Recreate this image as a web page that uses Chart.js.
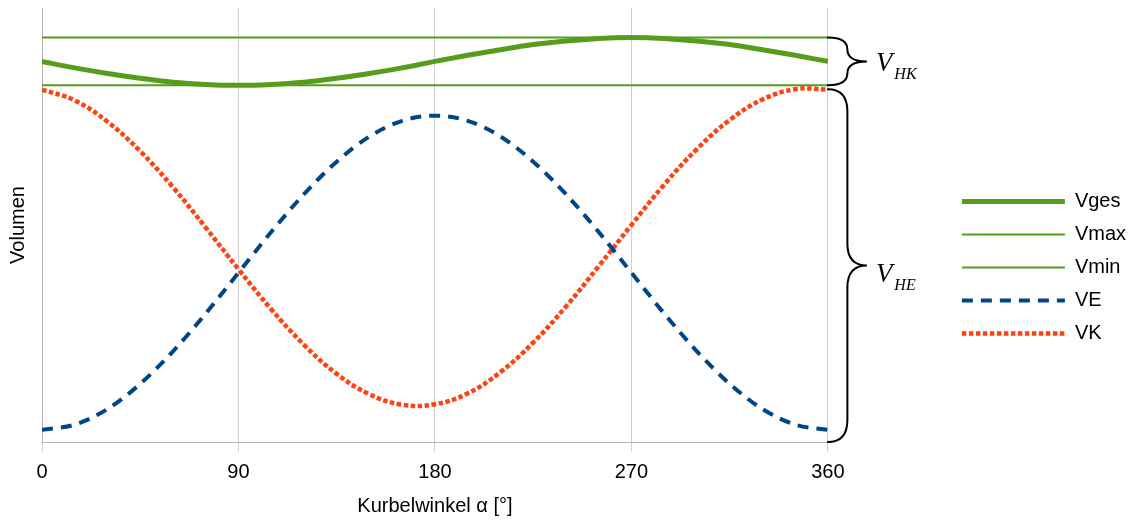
<!DOCTYPE html>
<html>
<head>
<meta charset="utf-8">
<script src="https://cdn.jsdelivr.net/npm/chart.js@4"></script>
<style>
  html, body { margin: 0; padding: 0; background: #fff; }
  #wrap { width: 1137px; height: 520px; }
</style>
</head>
<body>
<div id="wrap"><canvas id="chart"></canvas></div>
<script>
// Kurbelwinkel (x) und Volumina (y, ohne Einheit)
const angles = [0, 15, 30, 45, 60, 75, 90, 105, 120, 135, 150, 165, 180, 195, 210, 225, 240, 255, 270, 285, 300, 315, 330, 345, 360];
const vges = [87.7, 86.2, 84.9, 83.8, 82.9, 82.4, 82.2, 82.4, 82.9, 83.8, 84.9, 86.2, 87.7, 89.1, 90.4, 91.6, 92.4, 93.0, 93.2, 93.0, 92.4, 91.6, 90.4, 89.1, 87.7];
const ve = [2.8, 4.0, 7.6, 13.4, 20.9, 29.6, 39.0, 48.4, 57.1, 64.6, 70.4, 74.0, 75.2, 74.0, 70.4, 64.6, 57.1, 48.4, 39.0, 29.6, 20.9, 13.4, 7.6, 4.0, 2.8];
const vk = [81.2, 78.7, 73.8, 67.0, 58.7, 49.4, 39.8, 30.6, 22.4, 15.7, 11.0, 8.6, 8.7, 11.2, 16.1, 22.9, 31.2, 40.5, 50.0, 59.3, 67.5, 74.2, 78.9, 81.3, 81.2];
const vmax = 93.2;
const vmin = 82.2;
const xTicks = [0, 90, 180, 270, 360];

const GREEN = '#579d1c', BLUE = '#004586', ORANGE = '#ff420e';
const FONT = '"Liberation Sans", Arial, sans-serif';

const pts = arr => angles.map((a, i) => ({ x: a, y: arr[i] }));
const flat = v => [{ x: angles[0], y: v }, { x: angles[angles.length - 1], y: v }];

// Geschweifte Klammer rechts neben dem Diagramm
function drawBrace(ctx, x0, yTop, yBot, w) {
    const xm = x0 + w / 2, xt = x0 + w;
    const tip = (yTop + yBot) / 2;
    const r = Math.min(22, (yBot - yTop) / 4);
    ctx.beginPath();
    ctx.moveTo(x0, yTop);
    ctx.quadraticCurveTo(xm, yTop, xm, yTop + r);
    ctx.lineTo(xm, tip - r);
    ctx.quadraticCurveTo(xm, tip, xt, tip);
    ctx.quadraticCurveTo(xm, tip, xm, tip + r);
    ctx.lineTo(xm, yBot - r);
    ctx.quadraticCurveTo(xm, yBot, x0, yBot);
    ctx.stroke();
    return tip;
}

function drawLabel(ctx, x, base, sub) {
    ctx.font = 'italic 27px "Liberation Serif"';
    ctx.fillText('V', x, base);
    const w = ctx.measureText('V').width;
    ctx.font = 'italic 16px "Liberation Serif"';
    ctx.fillText(sub, x + w + 2, base + 8);
}

const bracePlugin = {
    id: 'braces',
    afterDraw(chart) {
        const { ctx, chartArea, scales } = chart;
        const y = scales.y;
        ctx.save();
        ctx.strokeStyle = '#000';
        ctx.fillStyle = '#000';
        ctx.lineWidth = 2;
        ctx.lineCap = 'round';
        const x0 = chartArea.right;
        const t1 = drawBrace(ctx, x0, y.getPixelForValue(vmax), y.getPixelForValue(vmin), 39);
        const t2 = drawBrace(ctx, x0, y.getPixelForValue(Math.max(...vk)), y.getPixelForValue(y.min), 39);
        ctx.textBaseline = 'alphabetic';
        drawLabel(ctx, x0 + 48, t1 + 10, 'HK');
        drawLabel(ctx, x0 + 48, t2 + 16, 'HE');
        ctx.restore();
    }
};

new Chart(document.getElementById('chart'), {
    type: 'line',
    data: {
        datasets: [
            { label: 'Vges', data: pts(vges), borderColor: GREEN, borderWidth: 5 },
            { label: 'Vmax', data: flat(vmax), borderColor: GREEN, borderWidth: 2 },
            { label: 'Vmin', data: flat(vmin), borderColor: GREEN, borderWidth: 2 },
            { label: 'VE', data: pts(ve), borderColor: BLUE, borderWidth: 4, borderDash: [11, 8] },
            // Extremwerte liegen zwischen den Stützstellen -> normale Spline statt monotone
            { label: 'VK', data: pts(vk), borderColor: ORANGE, borderWidth: 4.5, borderDash: [4.5, 2.5],
              cubicInterpolationMode: 'default', tension: 0.4 }
        ]
    },
    options: {
        responsive: true,
        maintainAspectRatio: false,
        animation: false,
        devicePixelRatio: 1,
        layout: { padding: { top: 8, right: 1, left: 0, bottom: 0 } },
        elements: {
            point: { radius: 0 },
            line: { cubicInterpolationMode: 'monotone', fill: false, borderCapStyle: 'butt' }
        },
        plugins: {
            tooltip: { enabled: false },
            legend: {
                position: 'right',
                // leerer Titel, nur um die Einträge etwas nach unten zu schieben
                title: { display: true, text: ' ', font: { size: 1 }, padding: { top: 3, bottom: 3 } },
                labels: {
                    usePointStyle: true,
                    pointStyle: 'line',
                    pointStyleWidth: 103,
                    padding: 13,
                    color: '#000',
                    font: { family: FONT, size: 20 },
                    // Strichmuster der Linien auch in der Legende zeigen
                    generateLabels(chart) {
                        const items = Chart.defaults.plugins.legend.labels.generateLabels(chart);
                        items.forEach(it => {
                            const ds = chart.data.datasets[it.datasetIndex];
                            it.lineDash = ds.borderDash || [];
                            it.lineWidth = ds.borderWidth;
                            it.strokeStyle = ds.borderColor;
                        });
                        return items;
                    }
                }
            }
        },
        scales: {
            x: {
                type: 'linear',
                min: 0,
                max: 360,
                afterBuildTicks: s => { s.ticks = xTicks.map(v => ({ value: v })); },
                ticks: {
                    color: '#000',
                    padding: 8,
                    font: { family: FONT, size: 20 }
                },
                grid: { color: '#d0d0d0', tickLength: 10 },
                border: { color: '#b3b3b3' },
                title: {
                    display: true,
                    text: 'Kurbelwinkel α [°]',
                    color: '#000',
                    padding: { top: 0, bottom: 2 },
                    font: { family: FONT, size: 20 }
                },
                afterFit: s => { s.height = 78; }
            },
            y: {
                min: 0,
                max: 100,
                ticks: { display: false },
                grid: { display: false },
                border: { color: '#b3b3b3' },
                title: {
                    display: true,
                    text: 'Volumen',
                    color: '#000',
                    padding: { top: 6, bottom: 0 },
                    font: { family: FONT, size: 20 }
                },
                afterFit: s => { s.width = 42; }
            },
            // Platz für die Klammern zwischen Diagramm und Legende
            gap: {
                position: 'right',
                display: true,
                ticks: { display: false },
                grid: { display: false },
                border: { display: false },
                afterFit: s => { s.width = 121; }
            }
        }
    },
    plugins: [bracePlugin]
});
</script>
</body>
</html>
